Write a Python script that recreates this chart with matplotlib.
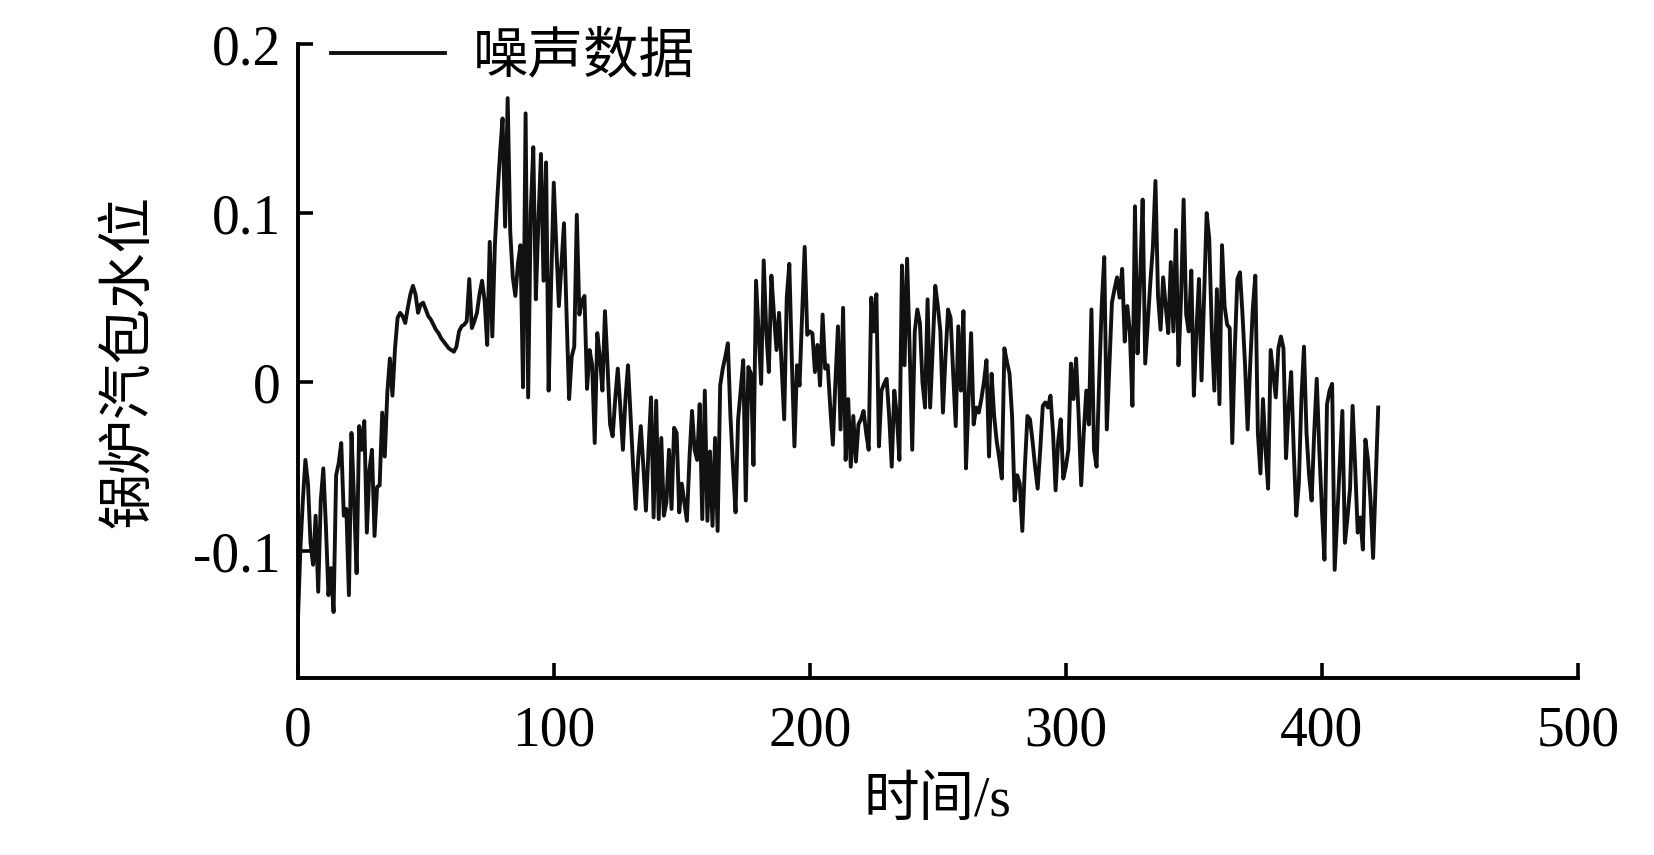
import numpy as np
import matplotlib
matplotlib.use("Agg")
import matplotlib.pyplot as plt

# Datos: nivel del tambor (1 muestra por segundo)
time_s = np.arange(423)
level = [
    -0.145, -0.100, -0.070, -0.046, -0.060, -0.095, -0.108, -0.079, -0.124, -0.070,
    -0.051, -0.085, -0.126, -0.110, -0.136, -0.055, -0.048, -0.036, -0.079, -0.075,
    -0.126, -0.030, -0.070, -0.113, -0.026, -0.040, -0.023, -0.089, -0.052, -0.040,
    -0.091, -0.062, -0.061, -0.018, -0.044, -0.006, 0.014, -0.008, 0.020, 0.038,
    0.041, 0.039, 0.035, 0.044, 0.052, 0.057, 0.052, 0.041, 0.046, 0.047,
    0.043, 0.039, 0.037, 0.034, 0.031, 0.029, 0.026, 0.024, 0.022, 0.020,
    0.019, 0.018, 0.021, 0.030, 0.033, 0.034, 0.036, 0.061, 0.032, 0.036,
    0.041, 0.052, 0.060, 0.048, 0.022, 0.083, 0.027, 0.081, 0.110, 0.135,
    0.156, 0.092, 0.168, 0.089, 0.062, 0.051, 0.070, 0.081, -0.003, 0.159,
    -0.009, 0.100, 0.139, 0.049, 0.095, 0.135, 0.060, 0.130, -0.005, 0.060,
    0.118, 0.080, 0.045, 0.070, 0.094, 0.040, -0.010, 0.015, 0.021, 0.099,
    0.040, 0.048, 0.051, -0.004, 0.019, 0.010, -0.036, 0.029, 0.015, -0.005,
    0.042, 0.010, -0.025, -0.032, -0.010, 0.008, -0.015, -0.040, -0.010, 0.010,
    -0.020, -0.050, -0.075, -0.045, -0.026, -0.050, -0.076, -0.040, -0.009, -0.080,
    -0.011, -0.081, -0.033, -0.079, -0.071, -0.040, -0.075, -0.027, -0.030, -0.077,
    -0.060, -0.071, -0.082, -0.045, -0.017, -0.040, -0.046, -0.013, -0.081, -0.005,
    -0.082, -0.041, -0.085, -0.033, -0.088, -0.002, 0.008, 0.015, 0.023, -0.020,
    -0.050, -0.077, -0.022, -0.005, 0.013, -0.070, 0.009, 0.005, -0.049, 0.060,
    0.030, -0.001, 0.072, 0.030, 0.006, 0.063, 0.040, 0.019, 0.041, 0.010,
    -0.022, 0.050, 0.070, 0.012, -0.038, 0.010, -0.002, 0.040, 0.080, 0.028,
    0.030, 0.029, 0.006, 0.022, -0.002, 0.040, 0.008, 0.010, -0.015, -0.037,
    0.000, 0.033, -0.028, 0.044, -0.046, -0.010, -0.050, -0.020, -0.047, -0.025,
    -0.022, -0.017, -0.030, -0.040, 0.050, 0.030, 0.052, -0.038, -0.005, -0.001,
    0.002, -0.020, -0.050, -0.005, -0.020, -0.046, 0.069, 0.010, 0.073, 0.020,
    -0.040, 0.030, 0.043, 0.035, 0.000, -0.015, 0.049, -0.015, 0.020, 0.057,
    0.045, 0.030, -0.018, 0.015, 0.043, 0.038, 0.005, -0.026, 0.033, -0.005,
    0.042, -0.051, -0.010, 0.029, -0.025, -0.015, -0.018, -0.010, 0.000, 0.013,
    -0.044, 0.005, -0.020, -0.035, -0.045, -0.057, 0.020, 0.012, 0.005, -0.020,
    -0.070, -0.055, -0.060, -0.088, -0.050, -0.020, -0.022, -0.035, -0.050, -0.063,
    -0.040, -0.014, -0.012, -0.015, -0.008, -0.030, -0.064, -0.035, -0.022, -0.057,
    -0.050, -0.040, 0.011, -0.010, 0.014, -0.020, -0.061, -0.030, -0.005, -0.025,
    0.043, -0.040, -0.050, 0.000, 0.045, 0.074, -0.028, 0.010, 0.047, 0.055,
    0.062, 0.050, 0.067, 0.024, 0.045, 0.030, -0.014, 0.104, 0.017, 0.060,
    0.108, 0.011, 0.035, 0.059, 0.080, 0.119, 0.051, 0.031, 0.062, 0.045,
    0.029, 0.071, 0.030, 0.090, 0.010, 0.050, 0.108, 0.040, 0.030, 0.066,
    -0.008, 0.030, 0.061, 0.001, 0.050, 0.100, 0.085, 0.030, -0.005, 0.055,
    -0.013, 0.081, 0.045, 0.034, 0.032, -0.036, 0.020, 0.061, 0.065, 0.040,
    0.010, -0.028, 0.010, 0.043, 0.063, -0.030, -0.054, -0.010, -0.040, -0.063,
    0.019, 0.005, -0.009, 0.020, 0.027, 0.020, -0.045, -0.015, 0.006, -0.040,
    -0.079, -0.060, -0.010, 0.021, -0.030, -0.055, -0.070, -0.030, 0.002, -0.040,
    -0.075, -0.105, -0.013, -0.005, -0.001, -0.111, -0.080, -0.048, -0.017, -0.095,
    -0.080, -0.063, -0.014, -0.050, -0.089, -0.080, -0.099, -0.034, -0.046, -0.070,
    -0.104, -0.060, -0.015,
]

x_ticks = [0, 100, 200, 300, 400, 500]
y_ticks = [-0.1, 0, 0.1, 0.2]
y_tick_labels = ["-0.1", "0", "0.1", "0.2"]
series_name = "噪声数据"

plt.rcParams['font.family'] = ['Liberation Serif', 'Noto Sans CJK SC']

fig = plt.figure(figsize=(16.54, 8.55), dpi=100)
ax = fig.add_axes([0.180, 0.207, 0.774, 0.7415])

ax.plot(time_s, level, color='#111111', linewidth=2.8, label=series_name)

ax.set_xlim(0, 500)
ax.set_ylim(-0.175, 0.2)
ax.set_xticks(x_ticks)
ax.set_xticklabels([str(v) for v in x_ticks])
ax.set_yticks(y_ticks)
ax.set_yticklabels(y_tick_labels)

for s in ['top', 'right']:
    ax.spines[s].set_visible(False)
for s in ['left', 'bottom']:
    ax.spines[s].set_linewidth(2.8)

ax.tick_params(axis='both', direction='in', length=11, width=2.6, labelsize=40)
ax.tick_params(axis='x', pad=20)
ax.tick_params(axis='y', pad=12)

ax.set_xlabel("时间/s", fontsize=40, labelpad=13)
ax.set_ylabel("锅炉汽包水位", fontsize=40, labelpad=26)

ax.legend(loc='upper left', bbox_to_anchor=(0.026, 1.019), frameon=False,
          fontsize=40, handlelength=2.05, handletextpad=0.5,
          borderpad=0, borderaxespad=0)

plt.savefig("out.png", dpi=100)
